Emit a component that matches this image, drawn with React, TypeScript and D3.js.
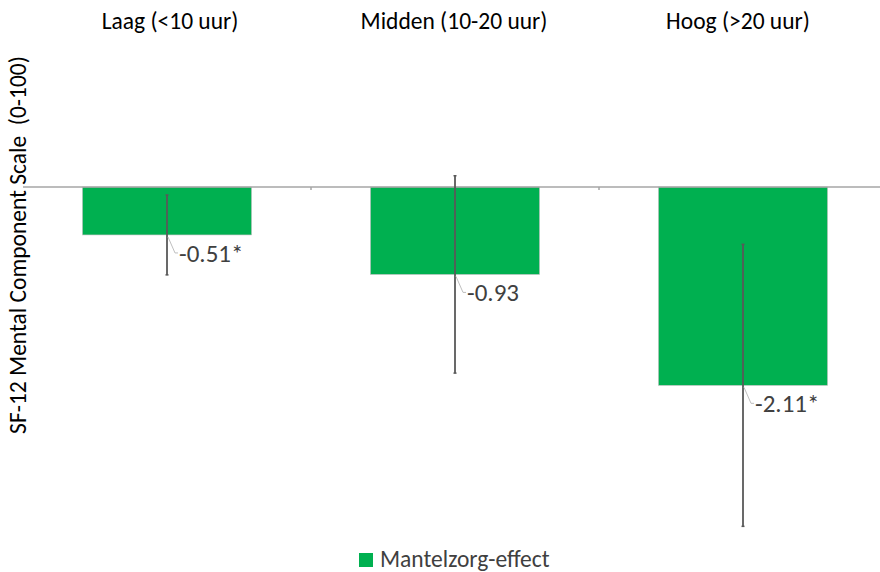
import React from "react";
import * as d3 from "d3";

const categories = ["Laag (<10 uur)", "Midden (10-20 uur)", "Hoog (>20 uur)"];
const effects = [-0.51, -0.93, -2.11];
const errors = [0.425, 1.05, 1.5];
const labels = ["-0.51*", "-0.93", "-2.11*"];
const seriesName = "Mantelzorg-effect";
const axisTitle = "SF-12 Mental Component Scale  (0-100)";

const W = 880;
const H = 572;
const FONT = "Carlito, Calibri, Lato, 'Open Sans', sans-serif";

export default function App() {
  const x = d3
    .scaleBand<string>()
    .domain(categories)
    .range([23, 887])
    .paddingInner(0.413)
    .paddingOuter(0.2065);
  const xTitle = d3.scalePoint<string>().domain(categories).range([170, 738]);
  const y = d3.scaleLinear().domain([0, -3.6]).range([187, 187 + 3.6 * 94]);
  const step = x.step();

  return (
    <svg width={W} height={H} style={{ position: "absolute", left: 0, top: 0 }} fontFamily={FONT}>
      <rect width={W} height={H} fill="#ffffff" />
      {categories.map((c, i) => {
        const x0 = x(c) as number;
        const bw = x.bandwidth();
        const v = effects[i];
        return (
          <rect
            key={c}
            x={x0}
            y={y(0)}
            width={bw}
            height={y(v) - y(0)}
            fill="#00B050"
            stroke="#bfbfbf"
            strokeWidth={0.6}
          />
        );
      })}
      <line x1={23} x2={W} y1={y(0)} y2={y(0)} stroke="#a6a6a6" strokeWidth={1.5} />
      {categories.slice(1).map((c) => {
        const bx = (x(c) as number) - (step - x.bandwidth()) / 2;
        return <line key={"t" + c} x1={bx} x2={bx} y1={y(0)} y2={y(0) + 3} stroke="#a6a6a6" strokeWidth={1.5} />;
      })}
      {categories.map((c, i) => {
        const cx = (x(c) as number) + x.bandwidth() / 2;
        const v = effects[i];
        const e = errors[i];
        return (
          <g key={"e" + c}>
            <line x1={cx} x2={cx} y1={y(v + e)} y2={y(v - e)} stroke="#595959" strokeWidth={1.8} />
            <line x1={cx - 1.5} x2={cx + 1.5} y1={y(v + e)} y2={y(v + e)} stroke="#595959" strokeWidth={1.5} />
            <line x1={cx - 1.5} x2={cx + 1.5} y1={y(v - e)} y2={y(v - e)} stroke="#595959" strokeWidth={1.5} />
            <polyline
              points={`${cx + 1},${y(v) + 2} ${cx + 8},${y(v) + 18} ${cx + 11},${y(v) + 18}`}
              fill="none"
              stroke="#bfbfbf"
              strokeWidth={1}
            />
            <text
              x={cx + 12}
              y={y(v) + 21}
              dominantBaseline="middle"
              fontSize={25}
              fill="#404040"
            >
              {labels[i]}
            </text>
          </g>
        );
      })}
      {categories.map((c) => (
        <text
          key={"c" + c}
          x={xTitle(c) as number}
          y={23}
          textAnchor="middle"
          dominantBaseline="middle"
          fontSize={23.5}
          fill="#000000"
        >
          {c}
        </text>
      ))}
      <text
        transform={`translate(20,245) rotate(-90)`}
        textAnchor="middle"
        dominantBaseline="middle"
        fontSize={23.5}
        fill="#000000"
        style={{ whiteSpace: "pre" }}
      >
        {axisTitle}
      </text>
      <rect x={359} y={553} width={14} height={14} fill="#00B050" />
      <text x={380} y={561} dominantBaseline="middle" fontSize={23.5} fill="#404040">
        {seriesName}
      </text>
    </svg>
  );
}
